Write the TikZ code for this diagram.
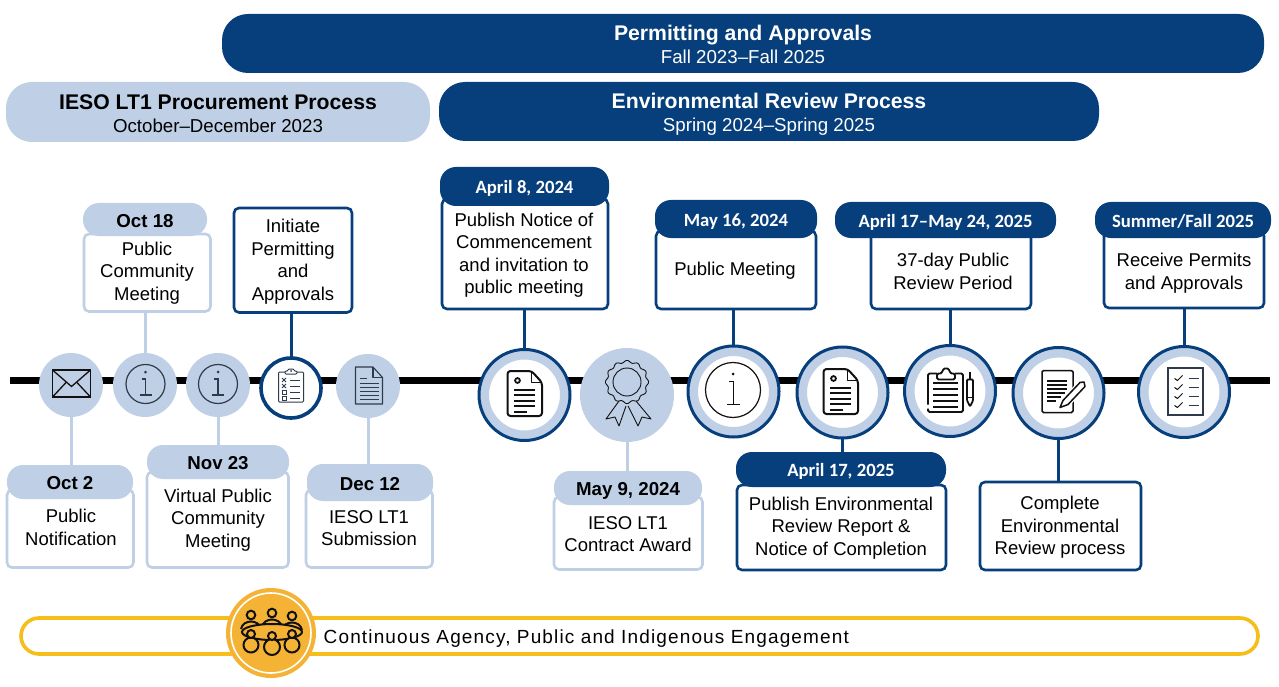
\documentclass[tikz,border=0pt]{standalone}
\usepackage{fontspec}
\setmainfont{Liberation Sans}
\newfontfamily\carl{Carlito}
\definecolor{navy}{HTML}{073F7C}
\definecolor{pale}{HTML}{BFD0E6}
\definecolor{gold}{HTML}{F5B335}
\definecolor{goldline}{HTML}{F6BE1A}
\definecolor{ink}{HTML}{111111}
\definecolor{slate}{HTML}{2F3A4A}
\tikzset{
 x=1pt,y=-1pt,
 shapebox/.style={rectangle,inner sep=0pt,outer sep=0pt},
 darkbox/.style={shapebox,draw=navy,line width=2.6pt,fill=white,rounded corners=5pt},
 palebox/.style={shapebox,draw=pale,line width=2.6pt,fill=white,rounded corners=5pt},
 darkpill/.style={shapebox,fill=navy,rounded corners=16pt,text=white,text height=14pt,text depth=0pt,font=\carl\bfseries\fontsize{18.7}{20}\selectfont},
 palepill/.style={shapebox,fill=pale,rounded corners=16pt,text=black,text height=15.5pt,text depth=0pt,font=\bfseries\fontsize{18.7}{20}\selectfont},
 banner/.style={shapebox,rounded corners=26pt},
 bantext/.style={align=center,inner sep=0pt,font=\fontsize{18.7}{23}\selectfont},
 txt/.style={align=center,inner sep=0pt,font=\fontsize{18.5}{22.5}\selectfont,text=black},
 link/.style={line width=3pt},
 palecirc/.style={circle,fill=pale,inner sep=0pt,minimum size=64pt},
 smallring/.style={circle,fill=white,draw=navy,line width=3.6pt,inner sep=0pt,minimum size=60pt},
 bigring/.style={circle,fill=white,draw=navy,line width=3pt,inner sep=0pt,minimum size=91pt,
   path picture={\draw[pale,line width=9pt] (path picture bounding box.center) circle (40pt);}},
 pics/envicon/.style={code={
   \draw[ink,line width=1.7pt,line join=miter] (-19,-13.5) rectangle (19,13.5);
   \draw[ink,line width=1.3pt] (-19,-13.5) -- (0,3) -- (19,-13.5) (-19,13.5) -- (-5,-1.5) (19,13.5) -- (5,-1.5);}},
 pics/infoicon/.style={code={
   \draw[slate,line width=1.2pt] (0,0) circle (19.5);
   \fill[slate] (0,-12) circle (1.5);
   \draw[slate,line width=1.1pt] (-4,-5) -- (0,-5) -- (0,11) (-6,11) -- (6,11);}},
 pics/biginfo/.style={code={
   \draw[ink,line width=1.2pt] (0,0) circle (27.5);
   \fill[ink] (0,-16) circle (1.5);
   \draw[ink,line width=.9pt] (-4,-9) -- (0,-9) -- (0,14) (-6,14) -- (7,14);}},
 pics/listicon/.style={code={
   \draw[slate,line width=1pt,rounded corners=1pt] (-12.5,-14) -- (-12.5,16) -- (12.5,16) -- (12.5,-14) -- cycle;
   \draw[slate,line width=1pt,fill=white,rounded corners=1pt] (-6,-12) -- (-6,-15) -- (-3,-15) -- (-3,-17) -- (3,-17) -- (3,-15) -- (6,-15) -- (6,-12) -- cycle;
   \fill[slate] (0,-15) circle (1);
   \foreach \yy in {-6,0,6,12}{\draw[slate,line width=.9pt] (-1,\yy) -- (9,\yy);}
   \draw[slate,line width=.9pt] (-9,-8) -- (-5,-4) (-9,-4) -- (-5,-8) (-9,-2) -- (-5,2) (-9,2) -- (-5,-2);
   \draw[slate,line width=.9pt] (-9,4) rectangle (-5,8) (-9,10) rectangle (-5,14);}},
 pics/grayfile/.style={code={
   \draw[slate,line width=1.1pt,line join=round] (-13.5,-18.5) -- (4,-18.5) -- (13.5,-8) -- (13.5,18.5) -- (-13.5,18.5) -- cycle;
   \draw[slate,line width=1.1pt,line join=round] (4,-18.5) -- (4,-8) -- (13.5,-8);
   \draw[slate,line width=1.2pt] (-9,-7) -- (-2,-7);
   \foreach \yy in {-2,2,6,10,14}{\draw[slate,line width=1pt] (-9,\yy) -- (10,\yy);}}},
 pics/boldfile/.style={code={
   \draw[ink,line width=2pt,line join=round,rounded corners=3pt] (-17,-22.5) -- (7,-22.5) -- (17.5,-11) -- (17.5,22.5) -- (-17,22.5) -- cycle;
   \draw[ink,line width=1.8pt,line join=round] (7,-22.5) -- (7,-11) -- (17.5,-11);
   \draw[ink,line width=1.8pt] (-7,-13) circle (2.4);
   \foreach \yy in {-4,1.5,7,12.5}{\draw[ink,line width=2pt] (-10.5,\yy) -- (10.5,\yy);}
   \draw[ink,line width=2pt] (-10.5,18) -- (2,18);}},
 pics/award/.style={code={
   \draw[ink,line width=.9pt,fill=none] plot[domain=0:360,samples=120,smooth] ({(20.5+1.1*cos(12*\x))*cos(\x)},{(20.5+1.1*cos(12*\x))*sin(\x)});
   \draw[ink,line width=.9pt] (0,0) circle (14);
   \draw[ink,line width=.9pt,line join=round] (-8,19) -- (-21,37) -- (-12,35) -- (-8,44) -- (-1,24);
   \draw[ink,line width=.9pt,line join=round] (1,24) -- (11,44) -- (15,35) -- (24,37) -- (9,19);}},
 pics/clipicon/.style={code={
   \draw[ink,line width=1.8pt,line join=round,rounded corners=1.5pt] (-9,-16) -- (-18,-16) -- (-18,15) (-18,19) -- (-18,22.5) -- (17,22.5) -- (17,-16) -- (9,-16);
   \draw[ink,line width=1.8pt,line join=round,rounded corners=1.5pt] (-9,-10) -- (-9,-16) -- (-4,-16) -- (-4,-19) -- (0,-22) -- (4,-19) -- (4,-16) -- (9,-16) -- (9,-10) -- cycle;
   \foreach \yy in {-7,-1,5,11,17}{\draw[ink,line width=2pt] (-13,\yy) -- (12,\yy);}
   \draw[ink,line width=1.8pt,line join=round,rounded corners=1pt] (21,-10) -- (27,-10) -- (27,11) -- (24,17) -- (21,11) -- cycle;
   \draw[ink,line width=1.8pt] (24,-18) -- (24,-10) (21,8) -- (27,8);}},
 pics/writeicon/.style={code={
   \draw[ink,line width=1.5pt,rounded corners=1.5pt] (-17,-22) rectangle (14,20);
   \foreach \yy/\ww in {-11.5/8,-7.5/8,-3.5/8,0.5/6,4.5/2,8.5/-3}{\draw[ink,line width=1.4pt] (-12,\yy) -- (\ww,\yy);}
   \draw[white,line width=4pt,line join=round] (1,15) -- (4,8) -- (21,-10) -- (25,-10.5) -- (26,-6) -- (9,12) -- cycle;
   \draw[ink,line width=1.5pt,fill=white,line join=round] (1,15) -- (4,8) -- (21,-10) -- (25,-10.5) -- (26,-6) -- (9,12) -- cycle;}},
 pics/checkicon/.style={code={
   \draw[slate,line width=1.2pt] (-17.5,-23.5) rectangle (17.5,23.5);
   \foreach \yy in {-13,-4,5,14}{
     \draw[ink,line width=1pt] (-11,\yy) -- (-8,{\yy+2}) -- (-3,{\yy-3});
     \draw[slate,line width=1.1pt] (3,\yy) -- (13,\yy);}}},
 pics/meeticon/.style={code={
   \foreach \xx/\yy in {-20/-18,1/-20,21/-17}{
     \draw[ink,line width=2pt] (\xx,\yy) circle (4.3);
     \draw[ink,line width=2pt] ({\xx-10},{\yy+14}) .. controls ({\xx-8},{\yy+4}) and ({\xx+8},{\yy+4}) .. ({\xx+10},{\yy+14});}
   \draw[ink,line width=2pt,fill=gold] (1,-1) ellipse (30 and 8);
   \foreach \xx/\yy/\rr in {-20/12/7.5,1/14/8,21/12/7.5}{
     \draw[ink,line width=2pt,fill=gold] (\xx,\yy) circle (\rr);
     \draw[ink,line width=2pt,fill=gold] (\xx,{\yy-11}) circle (4);}}},
}
% \shp[style]{name}{x1}{y1}{x2}{y2}{text}
\newcommand{\shp}[7][]{\node[#1,minimum width={(#5)-(#3)},minimum height={(#6)-(#4)}] (#2) at ({((#3)+(#5))/2},{((#4)+(#6))/2}) {#7};}
\begin{document}
\begin{tikzpicture}
\useasboundingbox (0,0) rectangle (1279,687);
% banners
\shp[banner,fill=navy]{permit}{222}{14}{1264}{73}{}
\shp[banner,fill=pale]{ieso}{6}{82}{430}{142}{}
\shp[banner,fill=navy]{envrev}{439}{82}{1099}{141}{}
\node[bantext,text=white] (permitt) at (743,44.5) {{\bfseries\fontsize{21.2}{23}\selectfont Permitting and Approvals}\\Fall 2023–Fall 2025};
\node[bantext,text=black] (iesot) at (218,113.5) {{\bfseries\fontsize{21.2}{23}\selectfont IESO LT1 Procurement Process}\\October–December 2023};
\node[bantext,text=white] (envt) at (769,114) {{\bfseries\fontsize{21.2}{23}\selectfont Environmental Review Process}\\Spring 2024–Spring 2025};
% timeline
\coordinate (tl) at (10,380.5);
\coordinate (tr) at (1270,380.5);
\draw[black,line width=7pt] (tl) -- (tr);
% boxes
\shp[palebox]{b1}{84}{234}{210.5}{311.5}{}
\shp[darkbox]{b2}{234}{208}{352}{312.5}{}
\shp[darkbox]{b3}{442}{199}{608}{309}{}
\shp[darkbox]{b4}{656}{231}{816}{309}{}
\shp[darkbox]{b5}{871}{231}{1031}{309}{}
\shp[darkbox]{b6}{1104}{231}{1264}{308}{}
\shp[palebox]{b7}{7}{490}{133.5}{567.5}{}
\shp[palebox]{b8}{147}{472}{288.5}{567.5}{}
\shp[palebox]{b9}{306}{490}{432.5}{567.5}{}
\shp[palebox]{b10}{554}{497}{702.5}{569.5}{}
\shp[darkbox]{b11}{737}{485}{946}{570}{}
\shp[darkbox]{b12}{980}{482}{1141}{570}{}
% header pills
\shp[palepill]{h1}{83}{203}{207}{236}{Oct 18}
\shp[darkpill]{h3}{440}{167}{609}{206}{April 8, 2024}
\shp[darkpill]{h4}{655}{200}{817}{238}{May 16, 2024}
\shp[darkpill]{h5}{835}{202}{1056}{238}{April 17–May 24, 2025}
\shp[darkpill]{h6}{1095}{202}{1271}{238}{Summer/Fall 2025}
\shp[palepill]{h7}{7}{465}{133}{499}{Oct 2}
\shp[palepill]{h8}{147}{445}{289}{479}{Nov 23}
\shp[palepill]{h9}{307}{464}{433}{501}{Dec 12}
\shp[palepill]{h10}{554}{471}{702}{505}{May 9, 2024}
\shp[darkpill]{h11}{736}{452}{946}{487}{April 17, 2025}
% box text
\node[txt] (t1) at (147,273) {Public\\Community\\Meeting};
\node[txt] (t2) at (293,261.5) {Initiate\\Permitting\\and\\Approvals};
\node[txt] (t3) at (524,255) {Publish Notice of\\Commencement\\and invitation to\\public meeting};
\node[txt] (t4) at (735,271) {Public Meeting};
\node[txt] (t5) at (953,271.5) {37-day Public\\Review Period};
\node[txt] (t6) at (1184,273) {Receive Permits\\and Approvals};
\node[txt] (t7) at (71,527.5) {Public\\Notification};
\node[txt] (t8) at (218,520) {Virtual Public\\Community\\Meeting};
\node[txt] (t9) at (369,528) {IESO LT1\\Submission};
\node[txt] (t10) at (628,534) {IESO LT1\\Contract Award};
\node[txt] (t11) at (841,528) {Publish Environmental\\Review Report \&\\Notice of Completion};
\node[txt] (t12) at (1060,527.5) {Complete\\Environmental\\Review process};
% milestones
\coordinate (m1) at (71,385);
\coordinate (m2) at (145,385);
\coordinate (m3) at (218,385);
\coordinate (m4) at (291,388);
\coordinate (m5) at (368,386);
\coordinate (m6) at (524.5,395);
\coordinate (m7) at (627,395);
\coordinate (m8) at (733.5,391.5);
\coordinate (m9) at (842.5,392.5);
\coordinate (m10) at (950,391);
\coordinate (m11) at (1058.5,393);
\coordinate (m12) at (1184,392);
% connectors
\draw[link,pale] (m1) -- (m1 |- h7.north);
\draw[link,pale] (m2) -- (m2 |- b1.south);
\draw[link,pale] (m3) -- (m3 |- h8.north);
\draw[link,navy] (m4) -- (m4 |- b2.south);
\draw[link,pale] (m5) -- (m5 |- h9.north);
\draw[link,navy] (m6) -- (m6 |- b3.south);
\draw[link,pale] (m7) -- (m7 |- h10.north);
\draw[link,navy] (m8) -- (m8 |- b4.south);
\draw[link,navy] (m9) -- (m9 |- h11.north);
\draw[link,navy] (m10) -- (m10 |- b5.south);
\draw[link,navy] (m11) -- (m11 |- b12.north);
\draw[link,navy] (m12) -- (m12 |- b6.south);
% circles
\node[palecirc] (c1) at (m1) {};
\node[palecirc] (c2) at (m2) {};
\node[palecirc] (c3) at (m3) {};
\node[smallring] (c4) at (m4) {};
\node[palecirc] (c5) at (m5) {};
\node[bigring] (c6) at (m6) {};
\node[palecirc,minimum size=94pt] (c7) at (m7) {};
\node[bigring] (c8) at (m8) {};
\node[bigring] (c9) at (m9) {};
\node[bigring] (c10) at (m10) {};
\node[bigring] (c11) at (m11) {};
\node[bigring] (c12) at (m12) {};
% icons
\pic at (71.5,383.5) {envicon};
\pic at (145.5,384) {infoicon};
\pic at (218,384) {infoicon};
\pic at (291,386) {listicon};
\pic at (369,385.5) {grayfile};
\pic at (524.5,393.5) {boldfile};
\pic at (627,382) {award};
\pic at (733,390) {biginfo};
\pic at (840.5,391.5) {boldfile};
\pic at (946,389.5) {clipicon};
\pic at (1059,392.5) {writeicon};
\pic at (1185.5,391.5) {checkicon};
% engagement
\shp[shapebox,draw=goldline,line width=3.6pt,rounded corners=18pt,fill=white]{eng}{21}{618}{1258}{654}{}
\node[circle,fill=gold,inner sep=0pt,minimum size=90pt] (eo) at (271,633) {};
\draw[white,line width=1.6pt] (eo) circle (40pt);
\pic at (271,633) {meeticon};
\node[anchor=west,inner sep=0pt,font=\fontsize{19}{22}\selectfont,text=black,text height=13pt,text depth=4pt] (englab) at (323.5,639) {\addfontfeature{LetterSpace=6}Continuous Agency, Public and Indigenous Engagement};
\end{tikzpicture}
\end{document}
